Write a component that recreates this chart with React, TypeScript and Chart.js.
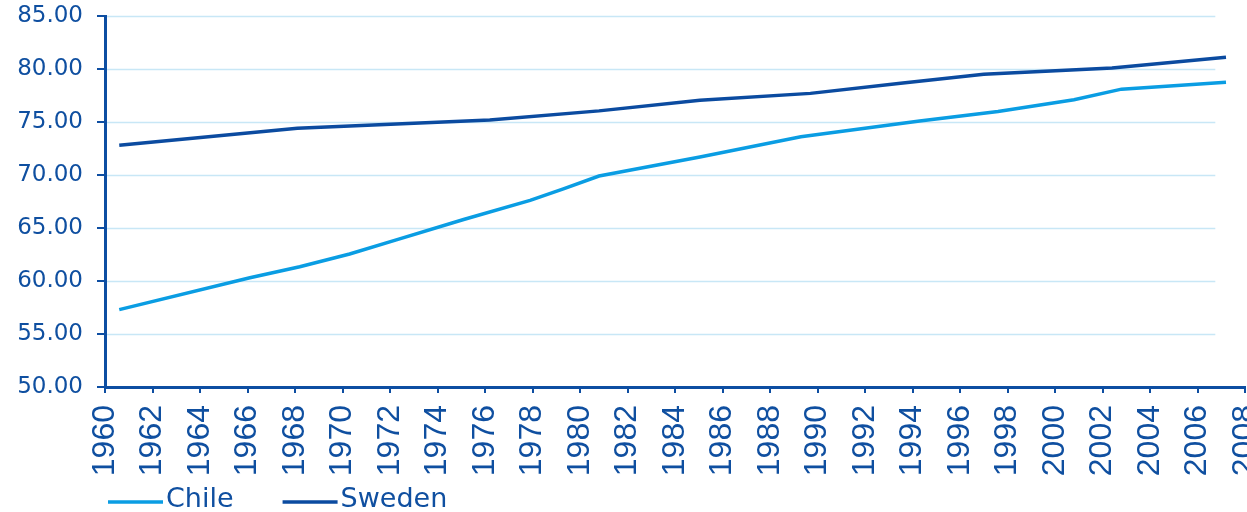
import React, { useEffect, useRef } from "react";
import { Chart, registerables } from "chart.js";

Chart.register(...registerables);

// ---- Data ----
const chileYears = [1960.6, 1966.1, 1968.2, 1970.3, 1972.3, 1975.1, 1977.9, 1979.3, 1980.8, 1985.05, 1989.3, 1994.3, 1997.6, 2000.8, 2002.8, 2007.2];
const chileValues = [57.3, 60.3, 61.35, 62.55, 63.9, 65.8, 67.6, 68.7, 69.9, 71.7, 73.6, 75.1, 76.0, 77.1, 78.1, 78.75];

const swedenYears = [1960.6, 1968.1, 1976.2, 1980.8, 1985.05, 1989.7, 1993.5, 1997.0, 2002.4, 2007.2];
const swedenValues = [72.8, 74.4, 75.2, 76.05, 77.05, 77.7, 78.65, 79.5, 80.1, 81.1];

const xTickYears = [1960, 1962, 1964, 1966, 1968, 1970, 1972, 1974, 1976, 1978, 1980, 1982, 1984, 1986, 1988, 1990, 1992, 1994, 1996, 1998, 2000, 2002, 2004, 2006, 2008];
const yTickValues = [50, 55, 60, 65, 70, 75, 80, 85];

const seriesLabels = ["Chile", "Sweden"];

// ---- Styles ----
const TEXT_COLOR = "#0f4fa0";
const AXIS_COLOR = "#0d4ea2";
const CHILE_COLOR = "#0a9de3";
const SWEDEN_COLOR = "#0b4ba0";
const GRID_COLOR = "#c8e7f6";
const GRID_END_YEAR = 2006.75;

const yGridPlugin = {
  id: "yGridPartial",
  beforeDatasetsDraw(chart: any) {
    const { ctx, chartArea } = chart;
    const x = chart.scales.x;
    const y = chart.scales.y;
    const xEnd = x.getPixelForValue(GRID_END_YEAR);
    ctx.save();
    ctx.strokeStyle = GRID_COLOR;
    ctx.lineWidth = 1.5;
    for (const v of yTickValues) {
      if (v === y.min) continue;
      const py = Math.round(y.getPixelForValue(v)) + 0.5;
      ctx.beginPath();
      ctx.moveTo(chartArea.left + 2, py);
      ctx.lineTo(xEnd, py);
      ctx.stroke();
    }
    ctx.restore();
  },
};

const legendPlugin = {
  id: "customLegend",
  afterDraw(chart: any) {
    const { ctx } = chart;
    ctx.save();
    ctx.font = '27px "DejaVu Sans"';
    ctx.textBaseline = "alphabetic";
    let x = 108;
    const lineY = 502;
    const textY = 507;
    chart.data.datasets.forEach((ds: any) => {
      ctx.strokeStyle = ds.borderColor;
      ctx.lineWidth = 3.5;
      ctx.beginPath();
      ctx.moveTo(x, lineY);
      ctx.lineTo(x + 55, lineY);
      ctx.stroke();
      ctx.fillStyle = TEXT_COLOR;
      ctx.fillText(ds.label, x + 58, textY);
      const w = ctx.measureText(ds.label).width;
      x += 58 + w + 49;
    });
    ctx.restore();
  },
};

export default function App() {
  const canvasRef = useRef<HTMLCanvasElement | null>(null);

  useEffect(() => {
    if (!canvasRef.current) return;
    const chart = new Chart(canvasRef.current, {
      type: "line",
      data: {
        datasets: [
          {
            label: seriesLabels[0],
            data: chileYears.map((yr, i) => ({ x: yr, y: chileValues[i] })),
            borderColor: CHILE_COLOR,
            backgroundColor: CHILE_COLOR,
            borderWidth: 3.5,
            pointRadius: 0,
            tension: 0,
          },
          {
            label: seriesLabels[1],
            data: swedenYears.map((yr, i) => ({ x: yr, y: swedenValues[i] })),
            borderColor: SWEDEN_COLOR,
            backgroundColor: SWEDEN_COLOR,
            borderWidth: 3.5,
            pointRadius: 0,
            tension: 0,
          },
        ],
      },
      options: {
        animation: false,
        responsive: false,
        layout: { padding: { top: 16, right: 2, bottom: 0, left: 0 } },
        plugins: {
          legend: { display: false },
          tooltip: { enabled: false },
        },
        scales: {
          x: {
            type: "linear",
            min: 1960,
            max: 2008,
            offset: false,
            afterBuildTicks: (scale: any) => {
              scale.ticks = xTickYears.map((v) => ({ value: v }));
            },
            afterFit: (scale: any) => {
              scale.height = 125;
              scale.paddingLeft = 0;
              scale.paddingRight = 0;
              scale.paddingTop = 0;
              scale.paddingBottom = 0;
            },
            ticks: {
              autoSkip: false,
              minRotation: 90,
              maxRotation: 90,
              padding: 12,
              color: TEXT_COLOR,
              font: { family: '"Liberation Sans", Arial, sans-serif', size: 32 },
              callback: (v: any) => String(v),
            },
            grid: {
              display: true,
              drawOnChartArea: false,
              drawTicks: true,
              tickLength: 6,
              color: AXIS_COLOR,
              lineWidth: 2,
            },
            border: { display: true, color: AXIS_COLOR, width: 3 },
          },
          y: {
            type: "linear",
            min: 50,
            max: 85,
            afterBuildTicks: (scale: any) => {
              scale.ticks = yTickValues.map((v) => ({ value: v }));
            },
            afterFit: (scale: any) => {
              scale.width = 105;
              scale.paddingTop = 0;
              scale.paddingBottom = 0;
            },
            ticks: {
              padding: 14,
              color: TEXT_COLOR,
              font: { family: '"DejaVu Sans", sans-serif', size: 23 },
              callback: (v: any) => Number(v).toFixed(2),
            },
            grid: {
              display: true,
              drawOnChartArea: false,
              drawTicks: true,
              tickLength: 8,
              color: AXIS_COLOR,
              lineWidth: 2,
            },
            border: { display: true, color: AXIS_COLOR, width: 3 },
          },
        },
      },
      plugins: [yGridPlugin, legendPlugin],
    });
    return () => chart.destroy();
  }, []);

  return (
    <div style={{ position: "fixed", left: 0, top: 0, width: 1247, height: 512, background: "#fff" }}>
      <canvas ref={canvasRef} width={1247} height={512} style={{ width: 1247, height: 512, display: "block" }} />
    </div>
  );
}
